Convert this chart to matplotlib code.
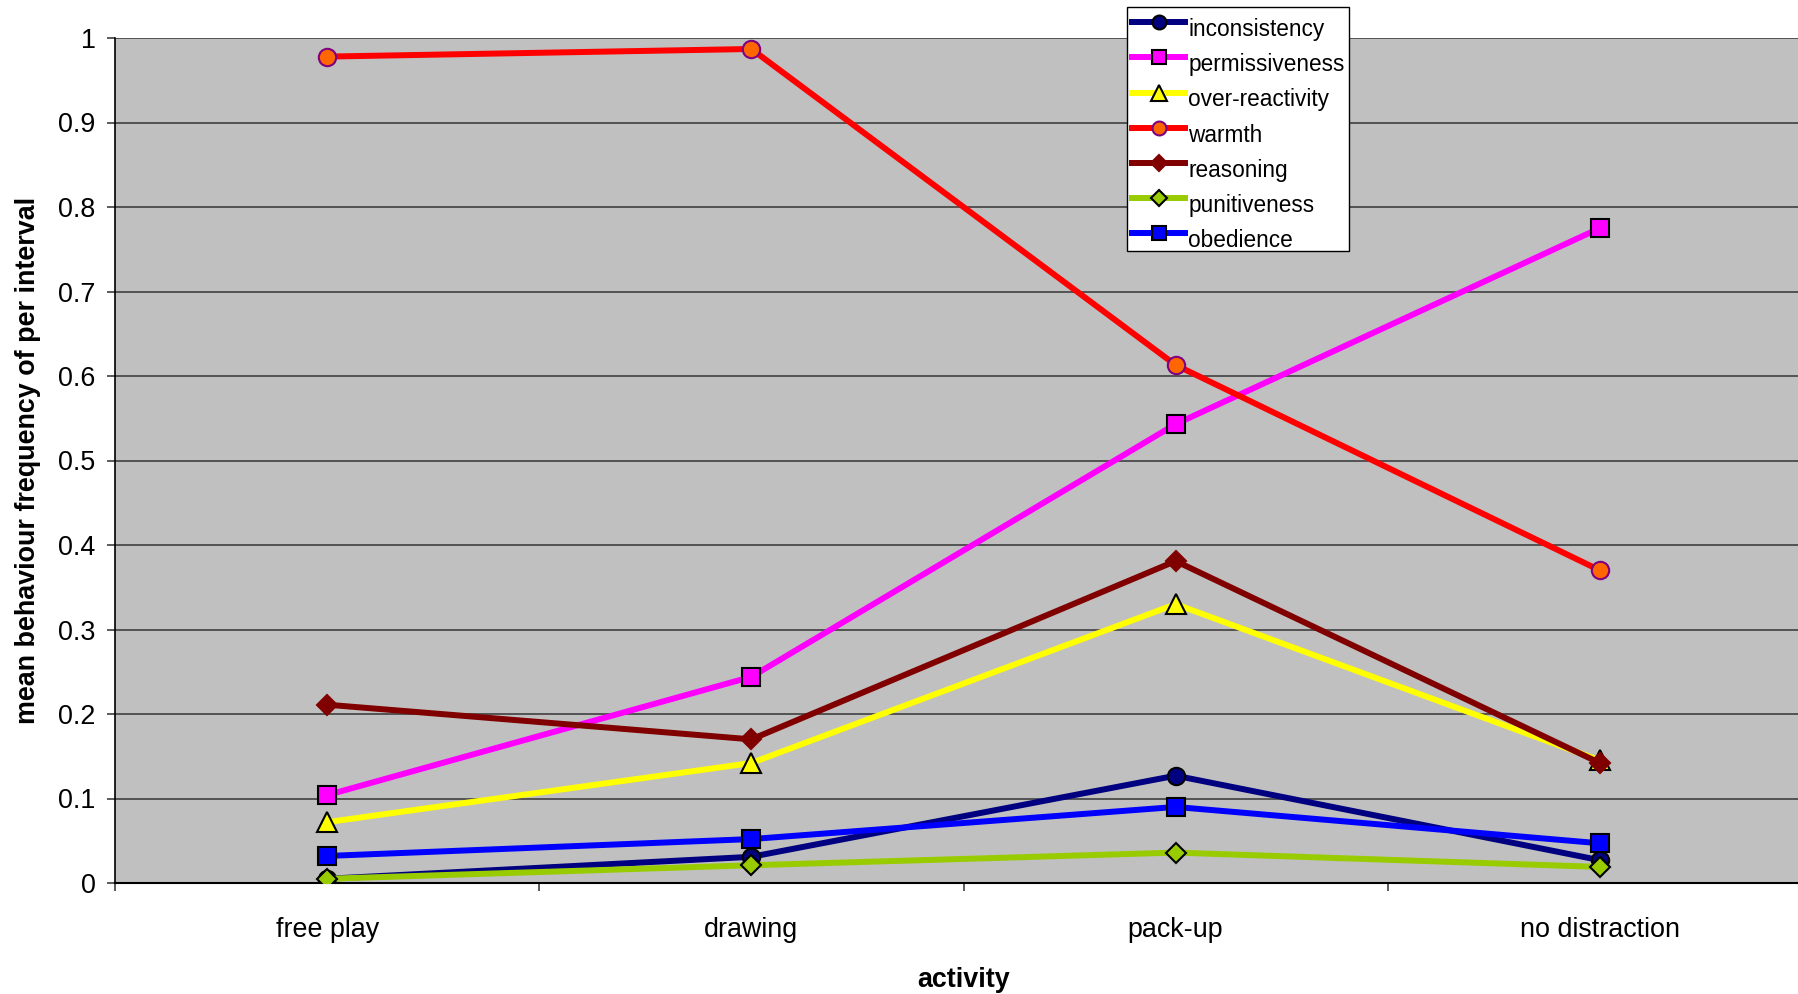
import matplotlib
matplotlib.use("Agg")
import matplotlib.pyplot as plt
import numpy as np

categories = ["free play", "drawing", "pack-up", "no distraction"]
inconsistency = [0.005, 0.031, 0.127, 0.027]
permissiveness = [0.104, 0.244, 0.543, 0.775]
over_reactivity = [0.072, 0.142, 0.330, 0.145]
warmth = [0.978, 0.987, 0.613, 0.370]
reasoning = [0.211, 0.170, 0.381, 0.142]
punitiveness = [0.005, 0.021, 0.036, 0.019]
obedience = [0.032, 0.052, 0.090, 0.047]
y_ticks = [0, 0.1, 0.2, 0.3, 0.4, 0.5, 0.6, 0.7, 0.8, 0.9, 1]
y_tick_labels = ["0", "0.1", "0.2", "0.3", "0.4", "0.5", "0.6", "0.7", "0.8", "0.9", "1"]

plt.rcParams['font.family'] = ['Liberation Sans', 'DejaVu Sans']

FS = 19.4
fig = plt.figure(figsize=(17.98, 9.94), dpi=100)
W, H = 1798, 994
ax = fig.add_axes([115 / W, (H - 883) / H, 1697 / W, 845 / H])
ax.set_facecolor("#C0C0C0")

x = np.arange(len(categories))
series = [
    ("inconsistency", inconsistency, dict(color="#000080", marker="o", ms=12.5, mfc="#000080", mec="black")),
    ("permissiveness", permissiveness, dict(color="#FF00FF", marker="s", ms=12.5, mfc="#FF00FF", mec="black")),
    ("over-reactivity", over_reactivity, dict(color="#FFFF00", marker="^", ms=14, mfc="#FFFF00", mec="black")),
    ("warmth", warmth, dict(color="#FF0000", marker="o", ms=12.5, mfc="#FF6600", mec="#800080")),
    ("reasoning", reasoning, dict(color="#800000", marker="D", ms=10, mfc="#800000", mec="#800000")),
    ("punitiveness", punitiveness, dict(color="#99CC00", marker="D", ms=10, mfc="#99CC00", mec="black")),
    ("obedience", obedience, dict(color="#0000FF", marker="s", ms=12.5, mfc="#0000FF", mec="black")),
]
for i, (name, vals, st) in enumerate(series):
    ax.plot(x, vals, lw=4.3, mew=1.5, label=name, zorder=3 + i, solid_joinstyle="round", **st)

ax.set_xlim(-0.5, 3.5)
ax.set_ylim(0, 1)
ax.set_yticks(y_ticks)
ax.set_yticklabels(y_tick_labels, fontsize=FS)
ax.yaxis.grid(True, color="#404040", lw=1.2, zorder=1)
ax.set_axisbelow(True)
ax.tick_params(axis="y", length=6, width=1.2, direction="out", color="#404040", pad=8)

ax.set_xticks(x)
ax.set_xticklabels(categories, fontsize=FS)
ax.set_xticks([-0.5, 0.5, 1.5, 2.5, 3.5], minor=True)
ax.tick_params(axis="x", which="major", length=0, pad=24.3)
ax.tick_params(axis="x", which="minor", length=6, width=1.2, direction="out", color="#404040")

for s in ["top", "right"]:
    ax.spines[s].set_visible(False)
ax.spines["left"].set_color("black")
ax.spines["bottom"].set_color("black")
ax.spines["bottom"].set_linewidth(1.5)
ax.spines["left"].set_linewidth(1.2)

ax.set_xlabel("activity", fontsize=FS, fontweight="bold")
ax.set_ylabel("mean behaviour frequency of per interval", fontsize=FS, fontweight="bold")
ax.xaxis.set_label_coords(0.5, (883 - 967) / 845)
ax.yaxis.set_label_coords((41.5 - 115) / 1697, 0.5)

leg = ax.legend(loc="upper left", bbox_to_anchor=(1127 / W, 1 - 7 / H), bbox_transform=fig.transFigure,
                fontsize=16.3, frameon=True, fancybox=False, framealpha=1, edgecolor="black",
                borderpad=0.22, labelspacing=0.54, handlelength=2.35, handletextpad=0.13, borderaxespad=0)
leg.get_frame().set_linewidth(1)
leg.set_zorder(20)
for h in leg.legend_handles:
    h.set_markersize(h.get_markersize() * 0.8)
for t in leg.get_texts():
    t.set_y(-6)

fig.savefig("out.png", dpi=100)
